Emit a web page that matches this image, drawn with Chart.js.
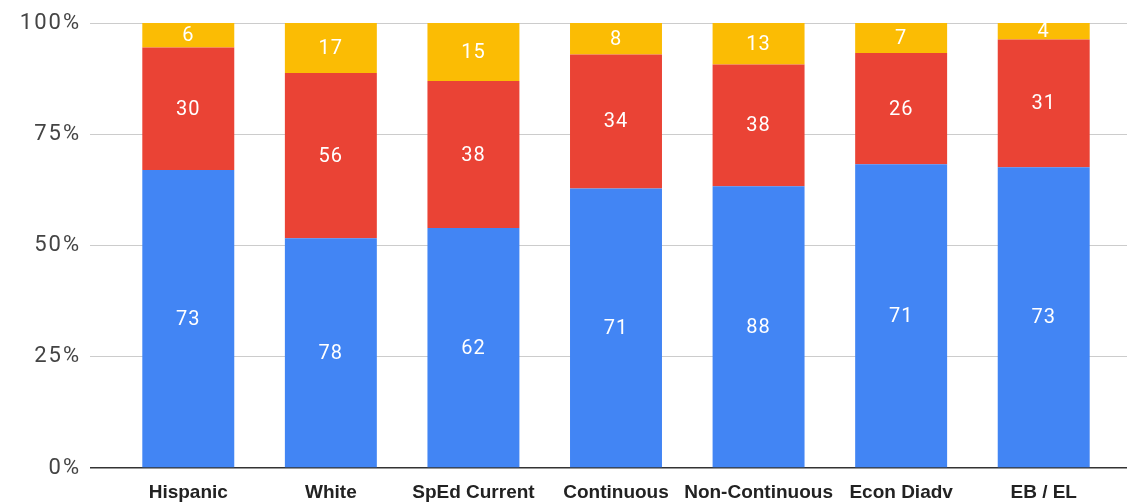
<!DOCTYPE html>
<html>
<head>
<meta charset="utf-8">
<script src="https://cdn.jsdelivr.net/npm/chart.js@4.4.1/dist/chart.umd.min.js"></script>
<style>
  html, body { margin: 0; padding: 0; background: #fff; }
  #wrap { width: 1130px; height: 502px; position: relative; }
</style>
</head>
<body>
<div id="wrap"><canvas id="myChart"></canvas></div>
<script>
(function () {
var categories = ['Hispanic', 'White', 'SpEd Current', 'Continuous', 'Non-Continuous', 'Econ Diadv', 'EB / EL'];
var blueValues = [73, 78, 62, 71, 88, 71, 73];
var redValues = [30, 56, 38, 34, 38, 26, 31];
var yellowValues = [6, 17, 15, 8, 13, 7, 4];
var yTicks = [0, 25, 50, 75, 100];

var totals = categories.map(function (c, i) {
  return blueValues[i] + redValues[i] + yellowValues[i];
});

function toPercent(values) {
  return values.map(function (v, i) { return v / totals[i] * 100; });
}

// white count labels in the middle of every segment
var segmentLabels = {
  id: 'segmentLabels',
  afterDatasetsDraw: function (chart) {
    var ctx = chart.ctx;
    ctx.save();
    ctx.font = '20px Roboto';
    ctx.letterSpacing = '1px';
    ctx.fillStyle = '#ffffff';
    ctx.textAlign = 'center';
    ctx.textBaseline = 'middle';
    chart.data.datasets.forEach(function (ds, di) {
      var meta = chart.getDatasetMeta(di);
      meta.data.forEach(function (bar, i) {
        var p = bar.getProps(['x', 'y', 'base'], true);
        ctx.fillText(String(ds.counts[i]), p.x, (p.y + p.base) / 2 + 1);
      });
    });
    ctx.restore();
    // x labels are drawn after this (ticks z: 1) without extra spacing
    ctx.letterSpacing = '0px';
  }
};

function align(px, w) {
  return Math.round(px - w / 2) + w / 2;
}

// gridlines run a little past the last bar on the right
var gridTail = {
  id: 'gridTail',
  beforeDatasetsDraw: function (chart) {
    var ctx = chart.ctx, y = chart.scales.y, right = chart.chartArea.right;
    ctx.save();
    yTicks.forEach(function (v) {
      var w = v === 0 ? 1.5 : 1;
      var py = align(y.getPixelForValue(v), w);
      ctx.strokeStyle = v === 0 ? '#333333' : '#cccccc';
      ctx.lineWidth = w;
      ctx.beginPath();
      ctx.moveTo(right, py);
      ctx.lineTo(right + 12, py);
      ctx.stroke();
    });
    ctx.restore();
  }
};

var spacing = {
  id: 'spacing',
  beforeDraw: function (chart) { chart.ctx.letterSpacing = '2px'; }
};

var ctx = document.getElementById('myChart');
var myChart = new Chart(ctx, {
  type: 'bar',
  data: {
    labels: categories,
    datasets: [{
      data: toPercent(blueValues),
      counts: blueValues,
      backgroundColor: '#4285F4'
    }, {
      data: toPercent(redValues),
      counts: redValues,
      backgroundColor: '#EA4335'
    }, {
      data: toPercent(yellowValues),
      counts: yellowValues,
      backgroundColor: '#FBBC04'
    }]
  },
  options: {
    responsive: true,
    maintainAspectRatio: false,
    animation: false,
    categoryPercentage: 0.645,
    barPercentage: 1,
    layout: { padding: { top: 23, right: 15, bottom: 0, left: 0 } },
    plugins: {
      legend: { display: false },
      tooltip: { enabled: false }
    },
    scales: {
      x: {
        stacked: true,
        grid: { display: false },
        border: { display: false },
        afterFit: function (scale) { scale.height = 34; },
        ticks: {
          z: 1,
          autoSkip: false,
          maxRotation: 0,
          padding: 5,
          color: '#222222',
          font: { family: 'Liberation Sans', size: 19, weight: 'bold' }
        }
      },
      y: {
        stacked: true,
        min: 0,
        max: 100,
        border: { display: false },
        afterFit: function (scale) { scale.width = 117; },
        afterBuildTicks: function (scale) {
          scale.ticks = yTicks.map(function (v) { return { value: v }; });
        },
        grid: {
          drawTicks: true,
          tickLength: 27,
          color: function (c) { return c.tick && c.tick.value === 0 ? '#333333' : '#cccccc'; },
          lineWidth: function (c) { return c.tick && c.tick.value === 0 ? 1.5 : 1; }
        },
        ticks: {
          padding: 9,
          color: '#444444',
          font: { family: 'Roboto', size: 22 },
          callback: function (v) { return v + '%'; }
        }
      }
    }
  },
  plugins: [spacing, gridTail, segmentLabels]
});
})();
</script>
</body>
</html>
